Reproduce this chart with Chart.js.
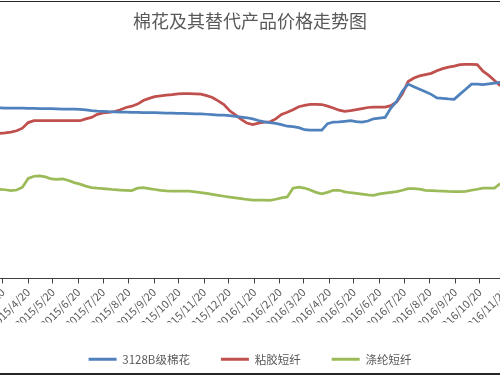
<!DOCTYPE html>
<html><head><meta charset="utf-8">
<script src="https://cdn.jsdelivr.net/npm/chart.js@4.4.0/dist/chart.umd.min.js"></script>
<style>
html,body{margin:0;padding:0;background:#fff;}
#wrap{position:relative;width:500px;height:375px;overflow:hidden;background:#fff;}
#c{position:absolute;left:0;top:0;}
.fr{position:absolute;left:0;width:500px;background:#262626;}
</style></head><body>
<div id="wrap"><canvas id="c" width="500" height="375"></canvas>
<div class="fr" style="top:1px;height:1px"></div>
<div class="fr" style="top:373px;height:2px"></div></div>
<script>
const dates = [
'2015-03-16','2015-03-23','2015-03-30','2015-04-06','2015-04-13','2015-04-20','2015-04-27','2015-05-04','2015-05-11','2015-05-18',
'2015-05-25','2015-06-01','2015-06-08','2015-06-15','2015-06-22','2015-06-29','2015-07-06','2015-07-13','2015-07-20','2015-07-27',
'2015-08-03','2015-08-10','2015-08-17','2015-08-24','2015-08-31','2015-09-07','2015-09-14','2015-09-21','2015-09-28','2015-10-05',
'2015-10-12','2015-10-19','2015-10-26','2015-11-02','2015-11-09','2015-11-16','2015-11-23','2015-11-30','2015-12-07','2015-12-14',
'2015-12-21','2015-12-28','2016-01-04','2016-01-11','2016-01-18','2016-01-25','2016-02-01','2016-02-08','2016-02-15','2016-02-22',
'2016-02-29','2016-03-07','2016-03-14','2016-03-21','2016-03-28','2016-04-04','2016-04-11','2016-04-18','2016-04-25','2016-05-02',
'2016-05-09','2016-05-16','2016-05-23','2016-05-30','2016-06-06','2016-06-13','2016-06-20','2016-06-27','2016-07-04','2016-07-11',
'2016-07-18','2016-07-25','2016-08-01','2016-08-08','2016-08-15','2016-08-22','2016-08-29','2016-09-05','2016-09-12','2016-09-19',
'2016-09-26','2016-10-03','2016-10-10','2016-10-17','2016-10-24','2016-10-31','2016-11-07','2016-11-14','2016-11-21'];
const cotton = [
13130,13120,13110,13110,13110,13100,13090,13080,13070,13070,
13060,13040,13030,13030,13010,12980,12920,12880,12860,12840,
12830,12810,12810,12790,12780,12770,12770,12760,12750,12730,
12730,12710,12700,12690,12670,12660,12640,12610,12580,12570,
12530,12470,12420,12370,12280,12160,12060,12000,11940,11840,
11720,11690,11610,11450,11420,11420,11420,11920,12040,12060,
12100,12140,12080,12030,12120,12290,12350,12400,13110,13620,
14410,14960,14760,14570,14370,14170,13900,13860,13820,13790,
14190,14570,14960,14950,14920,14980,15040,15100,15120];
const viscose = [
11160,11210,11270,11370,11570,12000,12140,12140,12140,12140,
12140,12140,12140,12140,12140,12280,12400,12630,12750,12790,
12850,12990,13160,13260,13420,13700,13860,13990,14050,14110,
14150,14200,14230,14230,14210,14190,14070,13930,13670,13380,
12910,12590,12250,11960,11840,11960,12040,12060,12280,12630,
12790,12990,13220,13320,13400,13400,13390,13260,13120,12950,
12870,12920,12990,13080,13160,13190,13190,13190,13300,13580,
14210,15160,15430,15590,15690,15790,15990,16150,16260,16340,
16460,16480,16480,16460,15950,15630,15240,14830,14610];
const polyester = [
6870,6830,6770,6810,7030,7700,7870,7900,7820,7660,
7620,7660,7540,7380,7260,7110,7000,6950,6910,6870,
6830,6810,6790,6770,6950,7000,6920,6850,6790,6740,
6730,6730,6730,6730,6670,6610,6550,6470,6400,6330,
6270,6210,6140,6080,6040,6030,6030,6020,6100,6200,
6280,6950,7030,6960,6810,6630,6510,6630,6790,6790,
6670,6600,6550,6490,6430,6400,6510,6570,6630,6690,
6790,6910,6910,6870,6790,6770,6740,6720,6700,6690,
6690,6710,6790,6870,6950,6950,6950,7300,7300];
const tickLabels = ['2015/3/20','2015/4/20','2015/5/20','2015/6/20','2015/7/20','2015/8/20','2015/9/20','2015/10/20','2015/11/20','2015/12/20',
'2016/1/20','2016/2/20','2016/3/20','2016/4/20','2016/5/20','2016/6/20','2016/7/20','2016/8/20','2016/9/20','2016/10/20','2016/11/20'];
const seriesNames = ['3128B级棉花','粘胶短纤','涤纶短纤'];
const seriesColors = ['#4F81BD','#C0504D','#9BBB59'];
const titleText = '棉花及其替代产品价格走势图';

const FONT = '"Noto Sans CJK SC","Noto Sans",sans-serif';
const base = Date.UTC(2015,2,20);
function dayIndex(s){const p=s.split(/[-\/]/).map(Number);return (Date.UTC(p[0],p[1]-1,p[2])-base)/86400000;}
const PX_PER_DAY = 0.8224;
const X_MIN = -2.7/PX_PER_DAY;
const X_MAX = X_MIN + 500/PX_PER_DAY;

const allSeries=[cotton,viscose,polyester];
const datasets = allSeries.map((vals,si)=>({
  label: seriesNames[si],
  data: dates.map((d,i)=>({x:dayIndex(d),y:vals[i]})),
  borderColor: seriesColors[si],
  backgroundColor: seriesColors[si],
  borderWidth: 2.75,
  pointRadius: 0,
  tension: 0
}));

new Chart(document.getElementById('c'),{
  type:'line',
  data:{datasets},
  options:{
    responsive:false,
    animation:false,
    devicePixelRatio:1,
    layout:{padding:{left:0,right:0,top:0,bottom:0}},
    plugins:{
      title:{display:true,text:titleText,color:'#595959',font:{family:FONT,size:18,weight:'normal'},padding:{top:10,bottom:13}},
      legend:{position:'bottom',labels:{boxWidth:28,boxHeight:3,padding:31,color:'#595959',font:{family:FONT,size:11.5},
        generateLabels(chart){const it=Chart.defaults.plugins.legend.labels.generateLabels(chart);it.forEach(o=>{o.lineWidth=0;});return it;}}},
      tooltip:{enabled:false}
    },
    scales:{
      x:{type:'linear',min:X_MIN,max:X_MAX,
        afterBuildTicks(s){s.ticks=tickLabels.map(t=>({value:dayIndex(t)}));},
        afterFit(s){s.paddingLeft=0;s.paddingRight=0;s.height=44;},
        ticks:{autoSkip:false,minRotation:45,maxRotation:45,padding:2,color:'#595959',font:{family:FONT,size:11},
          callback(v,i){return tickLabels[i];}},
        grid:{display:true,drawOnChartArea:false,drawTicks:true,tickLength:5,color:'#404040'},
        border:{display:true,color:'#404040',width:1}
      },
      y:{display:false,min:0,max:18000}
    }
  }
});
</script>
</body></html>
